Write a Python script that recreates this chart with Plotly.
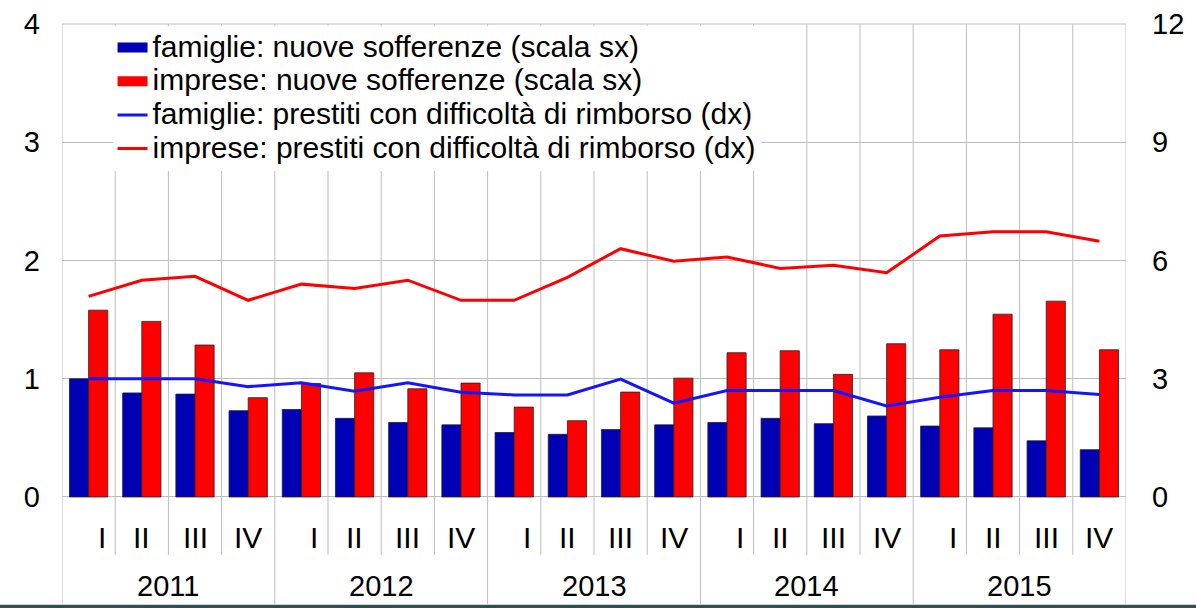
import plotly.graph_objects as go

# ---- data ----
years = ["2011", "2012", "2013", "2014", "2015"]
quarters = ["I", "II", "III", "IV"]
famiglie_sofferenze = [1.00, 0.88, 0.87, 0.73, 0.74, 0.665, 0.63, 0.61, 0.545, 0.53,
                       0.57, 0.61, 0.63, 0.665, 0.62, 0.685, 0.60, 0.585, 0.475, 0.40]
imprese_sofferenze = [1.58, 1.485, 1.285, 0.84, 0.96, 1.05, 0.915, 0.963, 0.76, 0.645,
                      0.887, 1.005, 1.22, 1.237, 1.037, 1.296, 1.245, 1.546, 1.656, 1.245]
famiglie_difficolta = [3.00, 3.00, 3.00, 2.80, 2.90, 2.68, 2.90, 2.66, 2.59, 2.59,
                       2.99, 2.38, 2.70, 2.70, 2.70, 2.31, 2.53, 2.70, 2.70, 2.60]
imprese_difficolta = [5.09, 5.50, 5.60, 4.99, 5.40, 5.29, 5.50, 4.99, 4.99, 5.57,
                      6.30, 5.98, 6.09, 5.80, 5.88, 5.69, 6.62, 6.73, 6.73, 6.49]
names = ["famiglie: nuove sofferenze (scala sx)",
         "imprese: nuove sofferenze (scala sx)",
         "famiglie: prestiti con difficoltà di rimborso (dx)",
         "imprese: prestiti con difficoltà di rimborso (dx)"]

n = len(years) * len(quarters)
xs = list(range(n))
FONT = "Liberation Sans, Arial, sans-serif"
LEG_SIZE = 30
BLUE_BAR = "#0000B4"
RED = "#FF0000"
BLUE_LINE = "#1414FF"


def lname(s):
    return f'<span style="font-size:{LEG_SIZE}px">{s}</span>'


fig = go.Figure()
fig.add_trace(go.Bar(x=xs, y=famiglie_sofferenze, name=names[0], showlegend=False,
                     marker=dict(color=BLUE_BAR, line=dict(color="#222222", width=0.8))))
fig.add_trace(go.Bar(x=xs, y=imprese_sofferenze, name=names[1], showlegend=False,
                     marker=dict(color=RED, line=dict(color="#222222", width=0.8))))
fig.add_trace(go.Scatter(x=xs, y=famiglie_difficolta, name=names[2], yaxis="y2",
                         mode="lines", line=dict(color=BLUE_LINE, width=3), showlegend=False))
fig.add_trace(go.Scatter(x=xs, y=imprese_difficolta, name=names[3], yaxis="y2",
                         mode="lines", line=dict(color=RED, width=3), showlegend=False))

# legend entries (rectangular swatches for the bar series)
fig.add_trace(go.Scatter(x=[None], y=[None], mode="lines", name=lname(names[0]),
                         line=dict(color=BLUE_BAR, width=16), hoverinfo="skip"))
fig.add_trace(go.Scatter(x=[None], y=[None], mode="lines", name=lname(names[1]),
                         line=dict(color=RED, width=16), hoverinfo="skip"))
fig.add_trace(go.Scatter(x=[None], y=[None], mode="lines", name=lname(names[2]),
                         line=dict(color=BLUE_LINE, width=3), hoverinfo="skip"))
fig.add_trace(go.Scatter(x=[None], y=[None], mode="lines", name=lname(names[3]),
                         line=dict(color=RED, width=3), hoverinfo="skip"))

YMIN = -0.905
GRID = "#BDBDBD"

shapes = []
# category separators
for k in range(1, n):
    is_year = (k % len(quarters) == 0)
    shapes.append(dict(type="line", xref="x", yref="y", x0=k - 0.5, x1=k - 0.5,
                       y0=YMIN if is_year else -0.49, y1=4,
                       line=dict(color=GRID, width=1), layer="below"))
# left/right borders
for xb in (-0.5, n - 0.5):
    shapes.append(dict(type="line", xref="x", yref="paper", x0=xb, x1=xb, y0=0, y1=1,
                       line=dict(color=GRID, width=1), layer="below"))
# bottom dark band
shapes.append(dict(type="rect", xref="paper", yref="paper", x0=-0.06, x1=1.07,
                   y0=-0.008, y1=-0.0015, line=dict(width=0), fillcolor="#2E5050", layer="above"))

annotations = []
for i in range(n):
    q = quarters[i % len(quarters)]
    annotations.append(dict(x=i, y=-0.34, xref="x", yref="y", text=q, showarrow=False,
                            xshift=13 if q == "I" else 0,
                            font=dict(family=FONT, size=30, color="#000000")))
for j, yr in enumerate(years):
    annotations.append(dict(x=j * len(quarters) + (len(quarters) - 1) / 2, y=-0.75,
                            xref="x", yref="y", text=yr, showarrow=False,
                            font=dict(family=FONT, size=29, color="#000000")))

fig.update_layout(
    width=1196, height=608,
    margin=dict(l=62, r=70, t=24, b=4),
    paper_bgcolor="white", plot_bgcolor="white",
    barmode="group", bargap=0.28, bargroupgap=0,
    font=dict(family=FONT, color="#000000"),
    xaxis=dict(range=[-0.5, n - 0.5], showgrid=False, showticklabels=False, zeroline=False,
               showline=False, ticks=""),
    yaxis=dict(range=[YMIN, 4], tickvals=[0, 1, 2, 3, 4], showgrid=True, gridcolor=GRID,
               gridwidth=1, zeroline=False, showline=False, ticks="",
               tickfont=dict(family=FONT, size=29), ticklabelstandoff=21),
    yaxis2=dict(range=[3 * YMIN, 12], tickvals=[0, 3, 6, 9, 12], overlaying="y", side="right",
                showgrid=False, zeroline=False, showline=False, ticks="",
                tickfont=dict(family=FONT, size=29), ticklabelstandoff=25),
    legend=dict(x=0.0475, y=0.997, xanchor="left", yanchor="top", bgcolor="white",
                borderwidth=0, font=dict(family=FONT, size=23.6, color="#000000"),
                tracegroupgap=0, traceorder="normal", itemwidth=30),
    shapes=shapes,
    annotations=annotations,
)
# top border
fig.add_shape(type="line", xref="paper", yref="paper", x0=0, x1=1, y0=1, y1=1,
              line=dict(color=GRID, width=1))

fig.write_html("out.html", config={"displayModeBar": False},
               post_script="document.body.style.margin='0';")
